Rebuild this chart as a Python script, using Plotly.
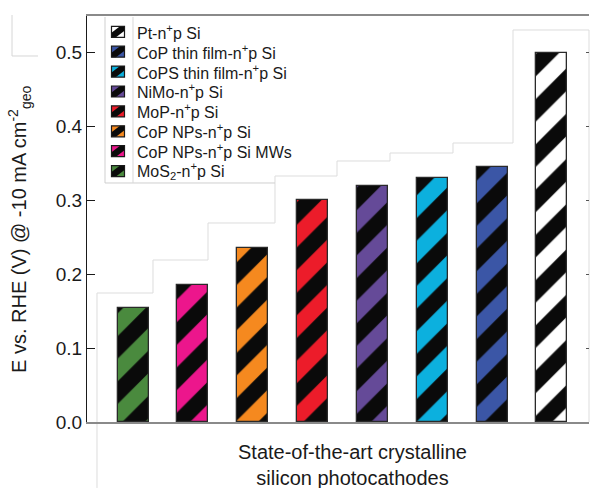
import plotly.graph_objects as go

# Potential at -10 mA cm^-2 for crystalline Si photocathodes
labels = [
    "MoS<sub>2</sub>-n<sup>+</sup>p Si",
    "CoP NPs-n<sup>+</sup>p Si MWs",
    "CoP NPs-n<sup>+</sup>p Si",
    "MoP-n<sup>+</sup>p Si",
    "NiMo-n<sup>+</sup>p Si",
    "CoPS thin film-n<sup>+</sup>p Si",
    "CoP thin film-n<sup>+</sup>p Si",
    "Pt-n<sup>+</sup>p Si",
]
values = [0.155, 0.185, 0.235, 0.300, 0.320, 0.330, 0.345, 0.500]
colors = ["#4a8a3e", "#ec168c", "#f5891f", "#ec1c2a", "#654a98",
          "#0cb0de", "#3b56a6", "#ffffff"]
y_ticks = [0.0, 0.1, 0.2, 0.3, 0.4, 0.5]

W, H = 591, 488
L, R, T, B = 87, 2, 16, 66
plot_w = W - L - R
plot_h = H - T - B

def px(x):
    return (x - L) / plot_w

def py(y):
    return (H - B - y) / plot_h

font = "Liberation Sans, Arial, sans-serif"
ink = "#1a1a1a"
edge = dict(color="#2a2a2a", width=1.3)

fig = go.Figure()
for i, (name, v, c) in enumerate(zip(labels, values, colors)):
    fig.add_trace(go.Bar(
        x=[i], y=[v], name=name, width=0.52, showlegend=False,
        marker=dict(
            color=c, line=edge,
            pattern=dict(shape="/", fgcolor="#0a0a0a", bgcolor=c,
                         size=32, solidity=0.5, fillmode="replace"),
        ),
    ))

def poly(pts):
    return "M " + " L ".join(f"{px(a):.5f},{py(b):.5f}" for a, b in pts) + " Z"

def line(pts):
    return "M " + " L ".join(f"{px(a):.5f},{py(b):.5f}" for a, b in pts)

shapes = []

# faint background stair-step outline and legend frame
steps = [(97, 488), (97, 293), (153, 293), (153, 260), (208, 260), (208, 223),
         (275, 223), (275, 176), (337, 176), (337, 161), (390, 161),
         (390, 153), (453, 153), (453, 143), (513, 143), (513, 30),
         (589, 30), (589, 422)]
corner = [(12, 15), (12, 56), (38, 56)]
legend_box = [(105, 17), (105, 183), (275, 183)]
separator = [(133, 17), (133, 183)]
for pts, col in ((steps, "#dddddd"), (corner, "#d6d6d6"),
                 (legend_box, "#cfcfcf"), (separator, "#d8d8d8")):
    shapes.append(dict(type="path", path=line(pts), xref="paper",
                       yref="paper", line=dict(color=col, width=1),
                       layer="below"))

# legend: striped swatches and entry names, top entry = last series
row0, row_step = 31.8, 19.9
sx0, sx1, half_h, band = 111.5, 124.5, 5.5, 4.5
annotations = []
for k, idx in enumerate(range(len(labels) - 1, -1, -1)):
    yc = row0 + k * row_step
    y0, y1 = yc - half_h, yc + half_h
    shapes.append(dict(type="path", xref="paper", yref="paper",
                       path=poly([(sx0, y0), (sx1, y0), (sx1, y1), (sx0, y1)]),
                       fillcolor=colors[idx], line=dict(width=0)))
    shapes.append(dict(type="path", xref="paper", yref="paper",
                       path=poly([(sx0, y1), (sx0, y1 - band),
                                  (sx1 - band, y0), (sx1, y0),
                                  (sx1, y0 + band), (sx0 + band, y1)]),
                       fillcolor="#0a0a0a", line=dict(width=0)))
    shapes.append(dict(type="path", xref="paper", yref="paper",
                       path=poly([(sx0, y0), (sx1, y0), (sx1, y1), (sx0, y1)]),
                       fillcolor="rgba(0,0,0,0)",
                       line=dict(color="#1a1a1a", width=1.2)))
    annotations.append(dict(
        text=labels[idx], xref="paper", yref="paper", x=px(134.5),
        y=py(yc), xanchor="left", yanchor="middle", showarrow=False,
        font=dict(size=16, family=font, color=ink)))

annotations += [
    dict(text="State-of-the-art crystalline<br>silicon photocathodes",
         xref="paper", yref="paper", x=px(352), y=py(439),
         xanchor="center", yanchor="top", showarrow=False,
         font=dict(size=20, family=font, color=ink)),
    dict(text="E vs. RHE (V) @ -10 mA cm<sup>-2</sup><sub>geo</sub>",
         xref="paper", yref="paper", x=px(19), y=py(230),
         xanchor="center", yanchor="middle", textangle=-90,
         showarrow=False,
         font=dict(size=20, family=font, color=ink)),
]

fig.update_layout(
    width=W, height=H,
    margin=dict(l=L, r=R, t=T, b=B),
    paper_bgcolor="white", plot_bgcolor="white",
    font=dict(family=font, color=ink),
    showlegend=False,
    bargap=0,
    shapes=shapes,
    annotations=annotations,
    xaxis=dict(
        range=[-0.77, 7.62], showticklabels=False, ticks="",
        showgrid=False, zeroline=False,
        showline=True, linecolor="#8a8a8a", linewidth=1.5, mirror=True,
    ),
    yaxis=dict(
        range=[0, 0.5496], tickvals=y_ticks,
        ticktext=[f"{t:.1f}" for t in y_ticks],
        ticks="inside", ticklen=8, tickwidth=1.2, tickcolor=ink,
        tickfont=dict(size=19, family=font, color=ink),
        showgrid=False, zeroline=False,
        showline=True, linecolor=ink, linewidth=1.3,
    ),
    yaxis2=dict(
        range=[0, 0.5496], tickvals=y_ticks, overlaying="y", side="right",
        ticks="inside", ticklen=3, tickcolor="#555555",
        showticklabels=False, showgrid=False, zeroline=False,
    ),
)
# invisible trace to activate the right-hand tick axis
fig.add_trace(go.Scatter(x=[0], y=[0], yaxis="y2", mode="markers",
                         marker=dict(opacity=0), showlegend=False,
                         hoverinfo="skip"))

fig.write_html("out.html")
